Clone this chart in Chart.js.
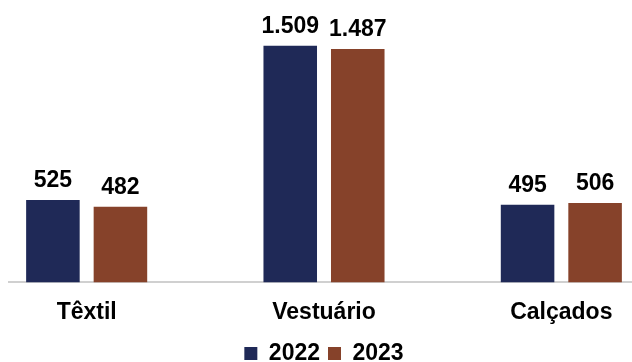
<!DOCTYPE html>
<html>
<head>
<meta charset="utf-8">
<script src="https://cdn.jsdelivr.net/npm/chart.js@4"></script>
<style>
    body { margin: 0; background: #fff; }
    #clip { position: absolute; left: 8px; top: 0; width: 624px; height: 362px; overflow: hidden; }
    #wrap { position: absolute; left: -40px; top: 0; width: 712px; height: 375px; }
</style>
</head>
<body>
<div id="clip"><div id="wrap"><canvas id="chart"></canvas></div></div>
<script>
// Data
const categories = ['Têxtil', 'Vestuário', 'Calçados'];
const values2022 = [525, 1509, 495];
const values2023 = [482, 1487, 506];
const seriesNames = ['2022', '2023'];

const FONT = '"Liberation Sans", Arial, sans-serif';
const FONT_SIZE = 23;

// pt-BR thousands separator
function formatNumber(v) {
    return String(v).replace(/\B(?=(\d{3})+(?!\d))/g, '.');
}

// Draws value labels above each bar
const valueLabels = {
    id: 'valueLabels',
    afterDatasetsDraw(chart) {
        const ctx = chart.ctx;
        ctx.save();
        ctx.font = 'bold ' + FONT_SIZE + 'px ' + FONT;
        ctx.fillStyle = '#000';
        ctx.textAlign = 'center';
        ctx.textBaseline = 'alphabetic';
        chart.data.datasets.forEach((ds, i) => {
            chart.getDatasetMeta(i).data.forEach((bar, j) => {
                ctx.fillText(formatNumber(ds.data[j]), bar.x, bar.y - 13);
            });
        });
        ctx.restore();
    }
};

new Chart(document.getElementById('chart'), {
    type: 'bar',
    data: {
        labels: categories,
        datasets: [{
            label: seriesNames[0],
            data: values2022,
            backgroundColor: '#1F2957'
        }, {
            label: seriesNames[1],
            data: values2023,
            backgroundColor: '#86422A'
        }]
    },
    options: {
        responsive: true,
        maintainAspectRatio: false,
        animation: false,
        datasets: {
            bar: { categoryPercentage: 0.569, barPercentage: 0.793 }
        },
        layout: { padding: { top: 0, bottom: 0 } },
        scales: {
            y: { display: false, min: 0, max: 1800 },
            x: {
                grid: { display: false },
                border: { color: '#D0D0D0', width: 2 },
                ticks: {
                    color: '#000',
                    padding: 8,
                    font: { family: FONT, size: FONT_SIZE, weight: 'bold' }
                }
            }
        },
        plugins: {
            tooltip: { enabled: false },
            legend: {
                position: 'bottom',
                labels: {
                    color: '#000',
                    boxWidth: 13,
                    boxHeight: 13,
                    padding: 8,
                    font: { family: FONT, size: FONT_SIZE, weight: 'bold' }
                }
            }
        }
    },
    plugins: [valueLabels]
});
</script>
</body>
</html>
